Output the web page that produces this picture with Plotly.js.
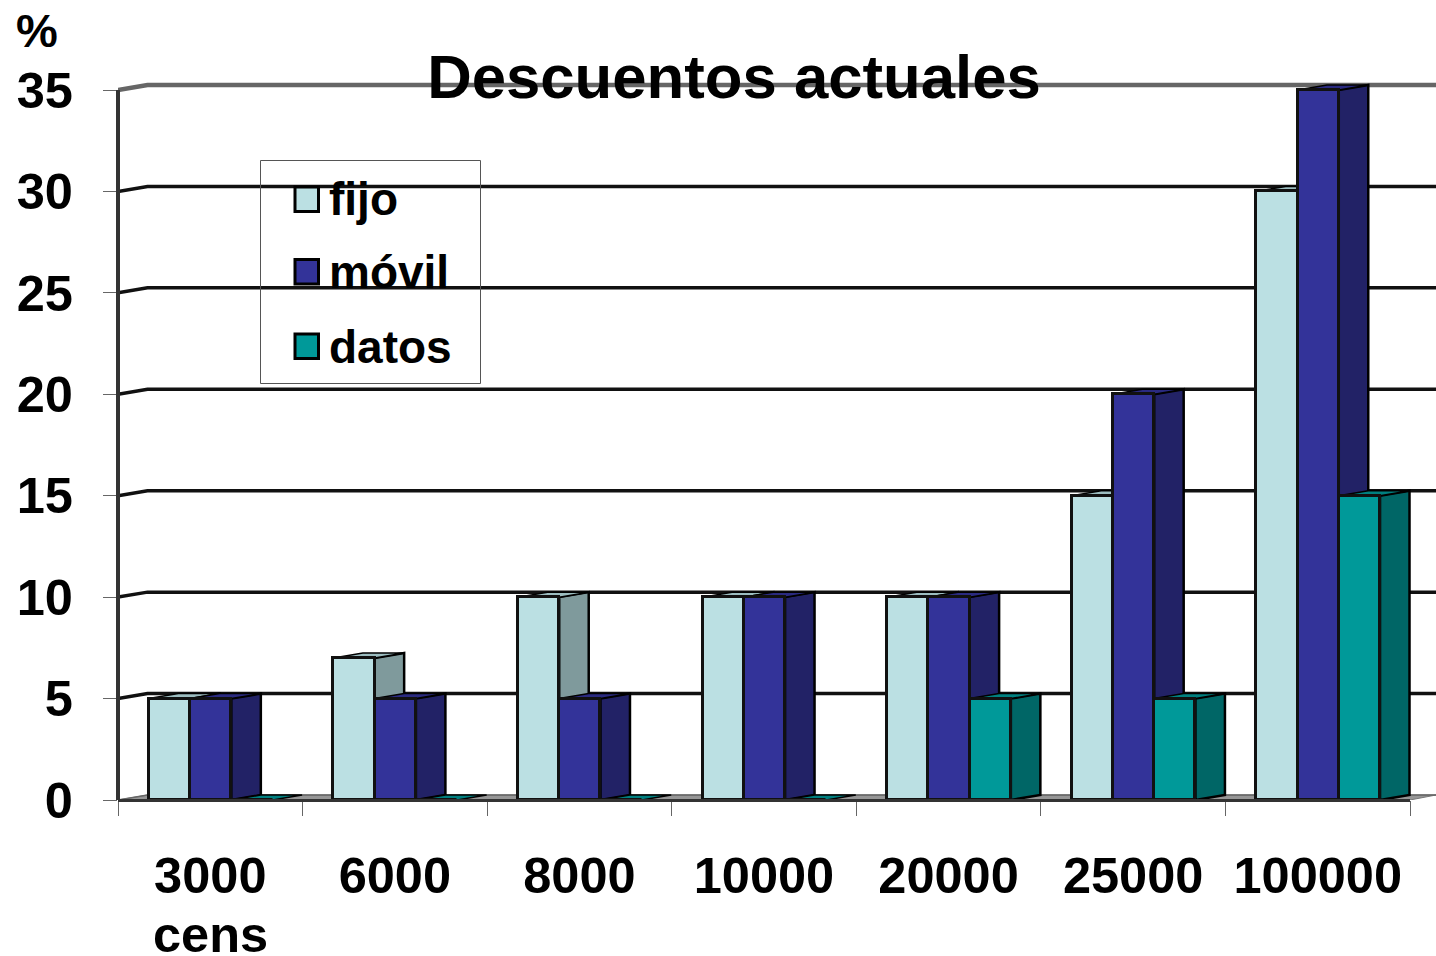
<!DOCTYPE html>
<html>
<head>
<meta charset="utf-8">
<script src="https://cdn.plot.ly/plotly-3.0.1.min.js"></script>
<style>html,body{margin:0;padding:0;background:#fff}#chart{width:1436px;height:956px}</style>
</head>
<body>
<div id="chart"></div>
<script>
// ---- data ----
const categories = ["3000", "6000", "8000", "10000", "20000", "25000", "100000"];
const fijo  = [5, 7, 10, 10, 10, 15, 30];
const movil = [5, 5, 5, 10, 10, 20, 35];
const datos = [0, 0, 0, 0, 5, 5, 15];
const yTicks = [0, 5, 10, 15, 20, 25, 30, 35];
const seriesNames = ["fijo", "móvil", "datos"];
const chartTitle = "Descuentos actuales";
const yUnit = "%";
const xNote = "cens";

// ---- styling / geometry ----
const W = 1436, H = 956, mL = 118, plotH = 800, catW = (1410 - 118) / 7, unitH = 710 / 35;
const FONT = "Liberation Sans";
const xRange = [-0.5, -0.5 + (W - mL) / catW];
const yRange = [0, plotH / unitH];
const depthX = 29.5 / catW, depthY = 5 / unitH;
const barLeft = 0.167, barW = 0.2235;
const frontColors = ["#BBE0E3", "#333399", "#009999"];
const sideColors  = ["#7F9A9C", "#222266", "#006666"];
const topColors   = ["#9CBDC0", "#2A2A80", "#008080"];
const allSeries = [fijo, movil, datos];
const xIdx = categories.map((_, i) => i);

const traces = [];
const base = {type: "scatter", mode: "lines", hoverinfo: "skip", showlegend: false};

// floor
traces.push(Object.assign({}, base, {
  x: [-0.5, -0.5 + depthX, xRange[1], 6.5, -0.5],
  y: [0, depthY, depthY, 0, 0],
  fill: "toself", fillcolor: "#969696", line: {color: "#777", width: 1}
}));

// back-wall gridlines with the slanted piece on the side wall
yTicks.forEach(v => {
  const grey = v === 35;
  traces.push(Object.assign({}, base, {
    x: [-0.5, -0.5 + depthX, xRange[1]],
    y: [v, v + depthY, v + depthY],
    line: {color: v === 0 ? "#666" : (grey ? "#666" : "#111"), width: v === 0 ? 1.5 : (grey ? 4.5 : 3.5)}
  }));
});

// side and top faces, painted left to right
allSeries.forEach((vals, s) => {
  const sx = [], sy = [], tx = [], ty = [];
  vals.forEach((v, i) => {
    const l = i - 0.5 + barLeft + s * barW, r = l + barW;
    if (v > 0) {
      sx.push(r, r + depthX, r + depthX, r, r, null);
      sy.push(0, depthY, v + depthY, v, 0, null);
    }
    tx.push(l, l + depthX, r + depthX, r, l, null);
    ty.push(v, v + depthY, v + depthY, v, v, null);
  });
  traces.push(Object.assign({}, base, {x: sx, y: sy, fill: "toself", fillcolor: sideColors[s], line: {color: "#000", width: 2.5}}));
  traces.push(Object.assign({}, base, {x: tx, y: ty, fill: "toself", fillcolor: topColors[s], line: {color: "#000", width: 1.5}}));
});

// front faces, on an overlaid subplot so they cover the side of the bar to their left
allSeries.forEach((vals, s) => {
  traces.push({
    type: "bar", name: seriesNames[s], x: xIdx, y: vals, xaxis: "x2", yaxis: "y2",
    width: barW, offset: -0.5 + barLeft + s * barW, cliponaxis: false,
    marker: {color: frontColors[s], line: {color: "#111", width: 3}},
    hoverinfo: "x+y", showlegend: false
  });
});

// ---- hand-laid legend (swatches much larger than Plotly's fixed bar swatch) ----
const pxX = p => (p - mL) / (W - mL);
const pxY = p => 1 - p / plotH;
const legendTop = [187, 259.5, 334], swatchH = 24.5, textMid = [199, 272, 347];
const shapes = [
  // y axis line and floor front edge sit on the plot border, so they are shapes (scatter lines get clipped there)
  {type: "line", xref: "paper", yref: "y", layer: "above", x0: 0, x1: 0,
   y0: yTicks[0], y1: yTicks[yTicks.length - 1], line: {color: "#333", width: 4}},
  {type: "line", xref: "x", yref: "paper", layer: "above", x0: -0.5, x1: 6.5,
   y0: pxY(800.5), y1: pxY(800.5), line: {color: "#333", width: 3}},
  {type: "rect", xref: "paper", yref: "paper", layer: "above",
   x0: pxX(260.5), x1: pxX(480.5), y0: pxY(160.5), y1: pxY(383.5),
   line: {color: "#555", width: 1}, fillcolor: "rgba(0,0,0,0)"}
];
const annotations = [];
seriesNames.forEach((n, s) => {
  shapes.push({
    type: "rect", xref: "paper", yref: "paper", layer: "above",
    x0: pxX(295), x1: pxX(318.5), y0: pxY(legendTop[s]), y1: pxY(legendTop[s] + swatchH),
    line: {color: "#000", width: 3}, fillcolor: frontColors[s]
  });
  annotations.push({
    text: n, xref: "paper", yref: "paper", x: pxX(326.5), y: pxY(textMid[s]),
    xanchor: "left", yanchor: "middle", showarrow: false,
    font: {family: FONT, size: 46, weight: 700, color: "#000"}
  });
});
annotations.push({
  text: yUnit, xref: "paper", yref: "paper", x: pxX(37), y: pxY(31),
  xanchor: "center", yanchor: "middle", showarrow: false,
  font: {family: FONT, size: 47, weight: 700, color: "#000"}
});
annotations.push({
  text: xNote, xref: "paper", yref: "paper", x: pxX(210.5), y: pxY(934),
  xanchor: "center", yanchor: "middle", showarrow: false,
  font: {family: FONT, size: 50.5, weight: 700, color: "#000"}
});

const layout = {
  width: W, height: H, autosize: false,
  margin: {l: mL, r: 0, t: 0, b: H - plotH, pad: 0},
  paper_bgcolor: "#fff", plot_bgcolor: "#fff",
  showlegend: false, barmode: "overlay", bargap: 0,
  title: {
    text: chartTitle, xref: "container", yref: "container",
    x: 734 / W, y: 1 - 76 / H, xanchor: "center", yanchor: "middle",
    font: {family: FONT, size: 61.7, weight: 700, color: "#000"}
  },
  xaxis: {
    type: "linear", range: xRange, showgrid: false, zeroline: false, showline: false,
    tickmode: "array", tickvals: xIdx, ticktext: categories, ticks: "", ticklabelstandoff: 41,
    tickfont: {family: FONT, size: 50.5, weight: 700, color: "#000"},
    minor: {
      tickmode: "array", tickvals: [-0.5].concat(xIdx.map(i => i + 0.5)),
      ticks: "outside", ticklen: 15, tickwidth: 1, tickcolor: "#666", showgrid: false
    }
  },
  yaxis: {
    type: "linear", range: yRange, showgrid: false, zeroline: false, showline: false,
    tickmode: "array", tickvals: yTicks, ticktext: yTicks.map(String),
    ticks: "outside", ticklen: 14, tickwidth: 1, tickcolor: "#666", ticklabelstandoff: 20,
    tickfont: {family: FONT, size: 50.5, weight: 700, color: "#000"}
  },
  xaxis2: {overlaying: "x", anchor: "y2", range: xRange, visible: false},
  yaxis2: {overlaying: "y", anchor: "x2", range: yRange, visible: false},
  shapes, annotations
};

Plotly.newPlot("chart", traces, layout, {displayModeBar: false, responsive: false});
</script>
</body>
</html>
